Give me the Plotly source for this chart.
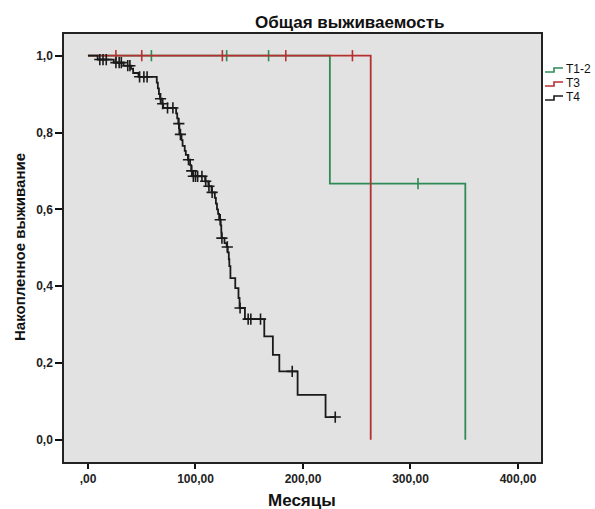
import plotly.graph_objects as go

# Kaplan-Meier step curves: event times (months) and survival after each step
t12_time = [0, 225, 351]
t12_surv = [1.0, 0.667, 0.0]
t12_cens = [59, 129, 168, 307]

t3_time = [0, 263]
t3_surv = [1.0, 0.0]
t3_cens = [26, 50, 125, 184, 246]

t4_time = [0, 9, 24, 33, 40, 42, 47, 64, 65, 66, 67, 69, 70, 82, 83, 84, 85, 87,
           88, 90, 91, 93, 95, 96, 97, 109, 112, 115, 118, 119, 120, 121, 122,
           123.5, 124, 124.2, 127, 129, 130, 131, 131.5, 132.5, 137, 140, 141,
           146, 164, 172, 178, 195, 221]
t4_surv = [1.0, 0.990, 0.982, 0.974, 0.966, 0.955, 0.945, 0.930, 0.915, 0.900,
           0.888, 0.875, 0.864, 0.850, 0.837, 0.823, 0.795, 0.780, 0.765, 0.752,
           0.742, 0.729, 0.715, 0.700, 0.686, 0.673, 0.660, 0.644, 0.630, 0.615,
           0.600, 0.588, 0.573, 0.558, 0.540, 0.525, 0.512, 0.502, 0.488, 0.470,
           0.452, 0.421, 0.395, 0.369, 0.343, 0.314, 0.269, 0.221, 0.178, 0.117,
           0.059]
t4_end = 230
t4_cens = [11, 14, 17, 26, 29, 31, 37, 39, 48, 52, 55, 67.5, 69.5, 74, 79, 84.5,
           86, 93.5, 96.5, 98, 100, 102, 106, 109.5, 112.5, 115.5, 123, 124.6,
           129.6, 141.5, 149, 151.5, 160.5, 190, 230]

x_ticks = [0, 100, 200, 300, 400]
x_ticktext = [",00", "100,00", "200,00", "300,00", "400,00"]
y_ticks = [0.0, 0.2, 0.4, 0.6, 0.8, 1.0]
y_ticktext = ["0,0", "0,2", "0,4", "0,6", "0,8", "1,0"]

groups = ["T1-2", "T3", "T4"]
colors = {"T1-2": "#2E8B57", "T3": "#B5302F", "T4": "#1A1A1A"}


def level_at(times, surv, t):
    s = surv[0]
    for ti, si in zip(times, surv):
        if ti <= t:
            s = si
    return s


fig = go.Figure()

series = [
    ("T1-2", t12_time, t12_surv, t12_time[-1], t12_cens),
    ("T3", t3_time, t3_surv, t3_time[-1], t3_cens),
    ("T4", t4_time, t4_surv, t4_end, t4_cens),
]

for name, tt, ss, end, cens in series:
    xs = list(tt)
    ys = list(ss)
    if end > xs[-1]:
        xs.append(end)
        ys.append(ys[-1])
    fig.add_trace(go.Scatter(
        x=xs, y=ys, mode="lines", line=dict(color=colors[name], width=1.8, shape="hv"),
        name=name, showlegend=False, hoverinfo="skip"))
    fig.add_trace(go.Scatter(
        x=cens, y=[level_at(tt, ss, c) for c in cens], mode="markers",
        marker=dict(symbol="cross-thin" if name == "T4" else "line-ns",
                    size=8, line=dict(color=colors[name], width=1.6)),
        showlegend=False, hoverinfo="skip"))

# plot-area geometry in pixels, used to place the hand-built legend and titles
W, H = 595, 509
L, R, T, B = 64, 541, 34, 462


def px(xp):
    return (xp - L) / (R - L)


def py(yp):
    return (B - yp) / (B - T)


shapes = []
annotations = []
for i, name in enumerate(groups):
    yc = 69 + i * 14
    path = "M {} {} L {} {} L {} {} L {} {}".format(
        px(545), py(yc + 3), px(554), py(yc + 3), px(554), py(yc - 1), px(563), py(yc - 1))
    shapes.append(dict(type="path", xref="paper", yref="paper", path=path,
                       line=dict(color=colors[name], width=1.6)))
    annotations.append(dict(x=px(564), y=py(yc), xref="paper", yref="paper",
                            text=name, showarrow=False, xanchor="left", yanchor="middle",
                            font=dict(family="Liberation Sans", size=12, color="#111")))

annotations.append(dict(x=px(350), y=py(22), xref="paper", yref="paper",
                        text="<b>Общая выживаемость</b>", showarrow=False,
                        xanchor="center", yanchor="middle",
                        font=dict(family="Liberation Sans", size=17, color="#111")))
annotations.append(dict(x=px(302), y=py(500), xref="paper", yref="paper",
                        text="<b>Месяцы</b>", showarrow=False,
                        xanchor="center", yanchor="middle",
                        font=dict(family="Liberation Sans", size=17, color="#111")))
annotations.append(dict(x=px(19), y=py(247), xref="paper", yref="paper",
                        text="<b>Накопленное выживание</b>", showarrow=False, textangle=-90,
                        xanchor="center", yanchor="middle",
                        font=dict(family="Liberation Sans", size=15, color="#111")))

axis_font = dict(family="Liberation Sans", size=12, color="#222")

fig.update_layout(
    width=W, height=H,
    margin=dict(l=L, r=W - R, t=T, b=H - B),
    paper_bgcolor="white",
    plot_bgcolor="#E2E2E2",
    shapes=shapes,
    annotations=annotations,
    xaxis=dict(range=[-22.3, 421.4], tickvals=x_ticks, ticktext=[f"<b>{t}</b>" for t in x_ticktext],
               ticks="outside", ticklen=5, tickwidth=1.5, tickcolor="#111",
               showline=True, linecolor="#222", linewidth=1.5, mirror=True,
               showgrid=False, zeroline=False, tickfont=axis_font),
    yaxis=dict(range=[-0.058, 1.0565], tickvals=y_ticks, ticktext=[f"<b>{t}</b>" for t in y_ticktext],
               ticks="outside", ticklen=7, tickwidth=1.5, tickcolor="#111",
               showline=True, linecolor="#222", linewidth=1.5, mirror=True,
               showgrid=False, zeroline=False, tickfont=axis_font),
)

fig.write_html("out.html")
